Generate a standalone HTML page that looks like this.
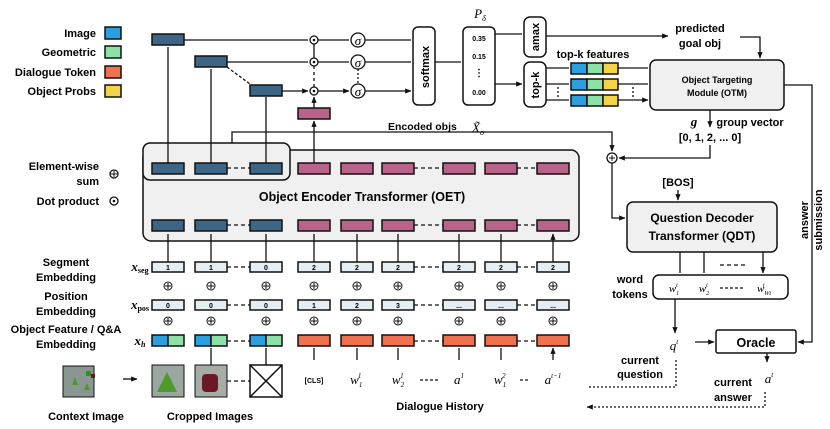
<!DOCTYPE html>
<html><head><meta charset="utf-8"><style>
body{margin:0;background:#fff}
svg{display:block;font-family:"Liberation Sans",sans-serif;font-weight:bold}
.b{stroke:#111;stroke-width:1.5}
.t{font-size:11px}
.s{font-size:7px;font-weight:bold}
.m{font-family:"Liberation Serif",serif;font-style:italic;font-weight:normal}
</style></head><body>
<svg width="830" height="429" viewBox="0 0 830 429" xmlns="http://www.w3.org/2000/svg">
<defs><marker id="a" viewBox="0 0 10 10" refX="9" refY="5" markerWidth="5" markerHeight="5" orient="auto"><path d="M0,1 L10,5 L0,9z" fill="#111"/></marker></defs>
<g fill="none" stroke="#111" stroke-width="1.3">
<rect x="143" y="150" width="436" height="91" rx="8" fill="#f0f0f0" class="b"/>
<rect x="143" y="143" width="147" height="37" rx="7" fill="#f0f0f0" class="b"/>
<rect x="627" y="202" width="150" height="50" rx="6" fill="#f0f0f0" class="b"/>
<rect x="650" y="60" width="134" height="50" rx="6" fill="#f0f0f0" class="b"/>
<rect x="653" y="275" width="135" height="24" rx="6" fill="#fff" class="b"/>
<rect x="716" y="330" width="80" height="23" rx="2" fill="#fff" class="b"/>
<rect x="413" y="27" width="22" height="78" rx="5" fill="#fff" class="b"/>
<rect x="463" y="27" width="32" height="78" rx="5" fill="#fff" class="b"/>
<rect x="524" y="17" width="22" height="40" rx="6" fill="#fff" class="b"/>
<rect x="524" y="62" width="22" height="45" rx="6" fill="#fff" class="b"/>
<path d="M184,40H308M227,62H308M282,91H308" marker-end="url(#a)"/>
<path d="M318,40H349M318,62H349M318,91H349" marker-end="url(#a)"/>
<path d="M365,40H411M365,62H411M365,91H411" marker-end="url(#a)"/>
<path d="M314,44V58"/><path d="M314,66V87" stroke-dasharray="3,3"/>
<path d="M358,69V84" stroke-dasharray="2,2"/>
<path d="M227,67L250,84" stroke-dasharray="3,2"/>
<path d="M314,108V97" marker-end="url(#a)"/>
<path d="M168,163V47M211,163V69M266,163V97M314,163V121" marker-end="url(#a)"/>
<path d="M435,62H461M495,34H522M495,84H522" marker-end="url(#a)"/>
<path d="M546,36H668" marker-end="url(#a)"/>
<path d="M740,37H760V58" marker-end="url(#a)"/>
<path d="M546,68H569M546,84H569M546,100H569M618,68H648M618,84H648M618,100H648" marker-end="url(#a)"/>
<path d="M558,87V97M633,87V97" stroke-dasharray="2,2"/>
<path d="M784,85H812V342H798" marker-end="url(#a)"/>
<path d="M710,110V127" marker-end="url(#a)"/>
<path d="M710,145V158H619" marker-end="url(#a)"/>
<path d="M232,143V132H612V151" marker-end="url(#a)"/>
<path d="M612,163V218H625" marker-end="url(#a)"/>
<path d="M678,190V200" marker-end="url(#a)"/>
<path d="M680,252V273M704,252V273M763,252V273" marker-end="url(#a)"/>
<path d="M720,265H745" stroke-dasharray="4,3"/>
<path d="M675,299V333" marker-end="url(#a)"/>
<path d="M695,342H714" marker-end="url(#a)"/>
<path d="M767,353V362" marker-end="url(#a)"/>
<path d="M676,360V387H587M765,392V407H587" stroke-dasharray="2,2" marker-end="url(#a)"/>
<path d="M123,379H137" marker-end="url(#a)"/>
<path d="M168,262V234M211,262V234M266,262V234M314,262V234M357,262V234M398,262V234M459,262V234M501,262V234M553,262V234" marker-end="url(#a)"/>
<path d="M211,365V348M266,365V348M314,360V348M357,360V348M398,360V348M459,360V348M501,360V348M553,360V348" marker-end="url(#a)"/>
<g stroke-dasharray="4,3"><path d="M227,168H250M414,168H443M517,168H537M227,225H250M414,225H443M517,225H537M227,267H250M414,267H443M517,267H537M227,305H250M414,305H443M517,305H537M227,341H250M414,341H443M517,341H537M227,381H250"/></g>
</g>
<g fill="#fff" stroke="#111" stroke-width="1.3">
<circle cx="314" cy="40" r="4"/><circle cx="314" cy="62" r="4"/><circle cx="314" cy="91" r="4"/>
<circle cx="358" cy="40" r="7"/><circle cx="358" cy="62" r="7"/><circle cx="358" cy="91" r="7"/>
<circle cx="612" cy="158" r="5"/><circle cx="114" cy="174" r="4"/><circle cx="114" cy="201" r="4"/>
</g>
<g fill="#111"><circle cx="314" cy="40" r="1.3"/><circle cx="314" cy="62" r="1.3"/><circle cx="314" cy="91" r="1.3"/><circle cx="114" cy="201" r="1.3"/></g>
<path d="M609,158h6M612,155v6M111,174h6M114,171v6" stroke="#111" stroke-width="1"/>
<g class="m" font-size="13" text-anchor="middle"><text x="358" y="45">σ</text><text x="358" y="67">σ</text><text x="358" y="96">σ</text></g>
<g class="b" fill="#3d6585">
<rect x="152" y="34" width="32" height="11"/><rect x="195" y="56" width="32" height="11"/><rect x="250" y="85" width="32" height="11"/>
<rect x="152" y="163" width="32" height="11"/><rect x="195" y="163" width="32" height="11"/><rect x="250" y="163" width="32" height="11"/>
<rect x="152" y="220" width="32" height="11"/><rect x="195" y="220" width="32" height="11"/><rect x="250" y="220" width="32" height="11"/>
</g>
<g class="b" fill="#b9628a">
<rect x="298" y="108" width="32" height="11"/>
<rect x="298" y="163" width="32" height="11"/><rect x="341" y="163" width="32" height="11"/><rect x="382" y="163" width="32" height="11"/><rect x="443" y="163" width="32" height="11"/><rect x="485" y="163" width="32" height="11"/><rect x="537" y="163" width="32" height="11"/>
<rect x="298" y="220" width="32" height="11"/><rect x="341" y="220" width="32" height="11"/><rect x="382" y="220" width="32" height="11"/><rect x="443" y="220" width="32" height="11"/><rect x="485" y="220" width="32" height="11"/><rect x="537" y="220" width="32" height="11"/>
</g>
<g class="b" fill="#e4eef3">
<rect x="152" y="262" width="32" height="10"/><rect x="195" y="262" width="32" height="10"/><rect x="250" y="262" width="32" height="10"/><rect x="298" y="262" width="32" height="10"/><rect x="341" y="262" width="32" height="10"/><rect x="382" y="262" width="32" height="10"/><rect x="443" y="262" width="32" height="10"/><rect x="485" y="262" width="32" height="10"/><rect x="537" y="262" width="32" height="10"/>
<rect x="152" y="300" width="32" height="10"/><rect x="195" y="300" width="32" height="10"/><rect x="250" y="300" width="32" height="10"/><rect x="298" y="300" width="32" height="10"/><rect x="341" y="300" width="32" height="10"/><rect x="382" y="300" width="32" height="10"/><rect x="443" y="300" width="32" height="10"/><rect x="485" y="300" width="32" height="10"/><rect x="537" y="300" width="32" height="10"/>
</g>
<g class="b">
<rect x="152" y="335" width="16" height="11" fill="#2b9fe0"/><rect x="168" y="335" width="16" height="11" fill="#8fe0a8"/>
<rect x="195" y="335" width="16" height="11" fill="#2b9fe0"/><rect x="211" y="335" width="16" height="11" fill="#8fe0a8"/>
<rect x="250" y="335" width="16" height="11" fill="#2b9fe0"/><rect x="266" y="335" width="16" height="11" fill="#8fe0a8"/>
<g fill="#ef7150"><rect x="298" y="335" width="32" height="11"/><rect x="341" y="335" width="32" height="11"/><rect x="382" y="335" width="32" height="11"/><rect x="443" y="335" width="32" height="11"/><rect x="485" y="335" width="32" height="11"/><rect x="537" y="335" width="32" height="11"/></g>
<rect x="571" y="63" width="16" height="11" fill="#2b9fe0"/><rect x="587" y="63" width="16" height="11" fill="#8fe0a8"/><rect x="603" y="63" width="15" height="11" fill="#f3d34a"/>
<rect x="571" y="79" width="16" height="11" fill="#2b9fe0"/><rect x="587" y="79" width="16" height="11" fill="#8fe0a8"/><rect x="603" y="79" width="15" height="11" fill="#f3d34a"/>
<rect x="571" y="95" width="16" height="11" fill="#2b9fe0"/><rect x="587" y="95" width="16" height="11" fill="#8fe0a8"/><rect x="603" y="95" width="15" height="11" fill="#f3d34a"/>
<rect x="105" y="27" width="16" height="12" fill="#2b9fe0"/><rect x="105" y="46" width="16" height="12" fill="#8fe0a8"/><rect x="105" y="66" width="16" height="12" fill="#ef7150"/><rect x="105" y="85" width="16" height="12" fill="#f3d34a"/>
</g>
<rect x="63" y="366" width="31" height="31" fill="#8a9690" stroke="#111"/>
<path d="M72,385l3,-8l3,8zM84,390l3,-7l3,7z" fill="#4a9a2a"/><rect x="86" y="371" width="5" height="5" fill="#3a8a2a"/><rect x="91" y="374" width="4" height="4" fill="#6a1a22"/>
<rect x="152" y="365" width="32" height="32" fill="#9aa69f" stroke="#111"/><path d="M157,392l10,-20l10,20z" fill="#4e9c28"/>
<rect x="195" y="365" width="32" height="32" fill="#a6aca6" stroke="#111"/><rect x="202" y="374" width="16" height="18" rx="4" fill="#6a1a26"/>
<rect x="250" y="365" width="32" height="32" fill="#fff" stroke="#111" stroke-width="1.5"/><path d="M250,365L282,397M282,365L250,397" stroke="#111" stroke-width="1.5"/>
<g class="s" text-anchor="middle">
<text x="168" y="270">1</text><text x="211" y="270">1</text><text x="266" y="270">0</text><text x="314" y="270">2</text><text x="357" y="270">2</text><text x="398" y="270">2</text><text x="459" y="270">2</text><text x="501" y="270">2</text><text x="553" y="270">2</text>
<text x="168" y="308">0</text><text x="211" y="308">0</text><text x="266" y="308">0</text><text x="314" y="308">1</text><text x="357" y="308">2</text><text x="398" y="308">3</text><text x="459" y="308">...</text><text x="501" y="308">...</text><text x="553" y="308">...</text>
<text x="314" y="383">[CLS]</text>
<text x="479" y="41">0.35</text><text x="479" y="59">0.15</text><text x="479" y="95">0.00</text>
</g>
<text x="479" y="76" text-anchor="middle" font-size="10">⋮</text>
<g fill="none" stroke="#111" stroke-width="1">
<circle cx="168" cy="286" r="4"/><circle cx="211" cy="286" r="4"/><circle cx="266" cy="286" r="4"/><circle cx="314" cy="286" r="4"/><circle cx="357" cy="286" r="4"/><circle cx="398" cy="286" r="4"/><circle cx="459" cy="286" r="4"/><circle cx="501" cy="286" r="4"/><circle cx="553" cy="286" r="4"/>
<circle cx="168" cy="321" r="4"/><circle cx="211" cy="321" r="4"/><circle cx="266" cy="321" r="4"/><circle cx="314" cy="321" r="4"/><circle cx="357" cy="321" r="4"/><circle cx="398" cy="321" r="4"/><circle cx="459" cy="321" r="4"/><circle cx="501" cy="321" r="4"/><circle cx="553" cy="321" r="4"/>
<path d="M165,286h6M208,286h6M263,286h6M311,286h6M354,286h6M395,286h6M456,286h6M498,286h6M550,286h6M165,321h6M208,321h6M263,321h6M311,321h6M354,321h6M395,321h6M456,321h6M498,321h6M550,321h6"/>
<path d="M168,283v6M211,283v6M266,283v6M314,283v6M357,283v6M398,283v6M459,283v6M501,283v6M553,283v6M168,318v6M211,318v6M266,318v6M314,318v6M357,318v6M398,318v6M459,318v6M501,318v6M553,318v6"/>
</g>
<g class="t" text-anchor="end"><text x="96" y="37">Image</text><text x="96" y="56">Geometric</text><text x="96" y="76">Dialogue Token</text><text x="96" y="95">Object Probs</text>
<text x="99" y="170">Element-wise</text><text x="99" y="185">sum</text><text x="99" y="205">Dot product</text></g>
<g class="t" text-anchor="middle">
<text x="66" y="266">Segment</text><text x="66" y="281">Embedding</text><text x="66" y="300">Position</text><text x="66" y="315">Embedding</text><text x="66" y="333">Object Feature / Q&amp;A</text><text x="66" y="348">Embedding</text>
<text x="86" y="420">Context Image</text><text x="210" y="420">Cropped Images</text><text x="440" y="410">Dialogue History</text>
<text x="362" y="201" font-size="12.5">Object Encoder Transformer (OET)</text>
<text x="702" y="222" font-size="12">Question Decoder</text><text x="702" y="240" font-size="12">Transformer (QDT)</text>
<text x="756" y="347" font-size="12.5">Oracle</text>
<text x="717" y="83" font-size="9">Object Targeting</text><text x="717" y="96" font-size="9">Module (OTM)</text>
<text x="700" y="32">predicted</text><text x="700" y="47">goal obj</text>
<text x="593" y="58">top-k features</text>
<text x="710" y="141">[0, 1, 2, ... 0]</text>
<text x="678" y="186">[BOS]</text>
<text x="630" y="283">word</text><text x="630" y="298">tokens</text>
<text x="640" y="364">current</text><text x="640" y="378">question</text>
<text x="733" y="386">current</text><text x="733" y="401">answer</text>
</g>
<text x="750" y="126" class="t" text-anchor="middle">group vector</text>
<text x="388" y="130" font-size="10.5">Encoded objs</text>
<text x="429" y="67" class="t" text-anchor="middle" transform="rotate(-90 429 67)">softmax</text>
<text x="539" y="37" class="t" text-anchor="middle" transform="rotate(-90 539 37)">amax</text>
<text x="539" y="85" class="t" text-anchor="middle" transform="rotate(-90 539 85)">top-k</text>
<text x="808" y="220" class="t" text-anchor="middle" transform="rotate(-90 808 220)">answer</text>
<text x="822" y="220" class="t" text-anchor="middle" transform="rotate(-90 822 220)">submission</text>
<g class="m" font-size="13" text-anchor="middle">
<text x="694" y="126" font-weight="bold">g</text>
<text x="478" y="132">X̃<tspan font-size="8" dy="3">o</tspan></text>
<text x="480" y="18">P<tspan font-size="8" dy="3">δ</tspan></text>
<text x="140" y="271" font-weight="bold">x<tspan font-size="8" dy="2" font-style="normal">seg</tspan></text>
<text x="140" y="309" font-weight="bold">x<tspan font-size="8" dy="2" font-style="normal">pos</tspan></text>
<text x="140" y="345" font-weight="bold">x<tspan font-size="8" dy="2">h</tspan></text>
<text x="356" y="384">w<tspan font-size="7" dy="3">1</tspan><tspan font-size="7" dx="-4" dy="-9">1</tspan></text>
<text x="398" y="384">w<tspan font-size="7" dy="3">2</tspan><tspan font-size="7" dx="-4" dy="-9">1</tspan></text>
<text x="459" y="384">a<tspan font-size="7" dy="-6">1</tspan></text>
<text x="500" y="384">w<tspan font-size="7" dy="3">1</tspan><tspan font-size="7" dx="-4" dy="-9">2</tspan></text>
<text x="553" y="384">a<tspan font-size="7" dy="-6">t−1</tspan></text>
<text x="674" y="350">q<tspan font-size="7" dy="-6">t</tspan></text>
<text x="769" y="383">a<tspan font-size="7" dy="-6">t</tspan></text>
<text x="674" y="292" font-size="11">w<tspan font-size="6" dy="3">1</tspan><tspan font-size="6" dx="-3" dy="-8">t</tspan></text>
<text x="704" y="292" font-size="11">w<tspan font-size="6" dy="3">2</tspan><tspan font-size="6" dx="-3" dy="-8">t</tspan></text>
<text x="764" y="292" font-size="11">w<tspan font-size="6" dy="3">Wt</tspan><tspan font-size="6" dx="-8" dy="-8">t</tspan></text>
</g>
<path d="M420,380H440M520,380H530M720,288H745" stroke="#111" stroke-width="1.2" stroke-dasharray="3,2"/>
</svg>
</body></html>
